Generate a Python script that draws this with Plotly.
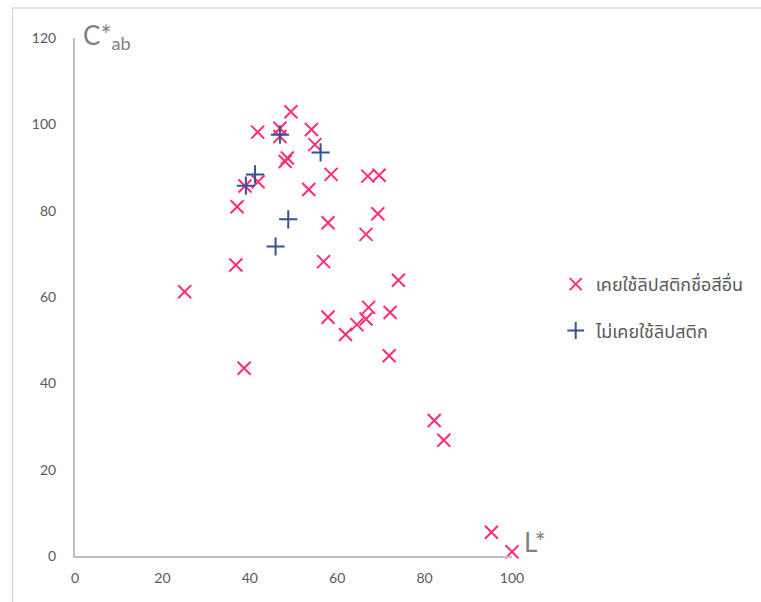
import plotly.graph_objects as go

# L* / C*ab measurements for each group
used_other_L = [25.1, 36.8, 37.1, 38.7, 38.9, 41.9, 41.8, 46.9, 46.9, 49.4, 48.1, 48.6,
                54.1, 54.9, 58.6, 67.0, 69.6, 53.5, 57.9, 69.3, 66.6, 56.9, 74.0, 57.9,
                67.2, 66.6, 64.5, 61.9, 72.1, 71.9, 82.2, 84.4, 95.3, 100.0]
used_other_C = [61.2, 67.4, 80.9, 43.5, 85.7, 86.7, 98.2, 99.1, 97.2, 102.9, 91.4, 92.2,
                98.8, 95.3, 88.4, 88.0, 88.2, 84.9, 77.2, 79.3, 74.5, 68.2, 63.9, 55.3,
                57.6, 54.9, 53.6, 51.3, 56.4, 46.4, 31.4, 26.8, 5.5, 1.0]

never_used_L = [46.9, 56.2, 41.2, 39.1, 48.8, 45.9]
never_used_C = [97.6, 93.5, 88.4, 85.8, 78.0, 71.7]

series_names = ["เคยใช้ลิปสติกชื่อสีอื่น", "ไม่เคยใช้ลิปสติก"]
x_ticks = [0, 20, 40, 60, 80, 100]
y_ticks = [0, 20, 40, 60, 80, 100, 120]

PINK = "#FF2D78"
BLUE = "#2F5597"
GRAY_TEXT = "#595959"
AXIS_GRAY = "#BFBFBF"
FONT = "Lato, 'Noto Sans', 'Noto Sans Thai', sans-serif"

fig = go.Figure()
fig.add_trace(go.Scatter(
    x=used_other_L, y=used_other_C, mode="markers", name=series_names[0],
    legendgroup="a", cliponaxis=False,
    marker=dict(symbol="x-thin", size=13, line=dict(color=PINK, width=2), color=PINK),
))
fig.add_trace(go.Scatter(
    x=never_used_L, y=never_used_C, mode="markers", name=series_names[1],
    legendgroup="b", cliponaxis=False,
    marker=dict(symbol="cross-thin", size=13, line=dict(color=BLUE, width=2), color=BLUE),
))

fig.update_layout(
    width=761, height=602,
    margin=dict(l=75, r=246, t=38, b=46),
    paper_bgcolor="white", plot_bgcolor="white",
    font=dict(family=FONT, color=GRAY_TEXT, size=14),
    legend=dict(x=1.1, y=0.56, xanchor="left", yanchor="top",
                font=dict(size=18, color=GRAY_TEXT), tracegroupgap=20,
                traceorder="grouped",
                itemsizing="constant", bgcolor="rgba(0,0,0,0)"),
    shapes=[dict(type="rect", xref="paper", yref="paper",
                 x0=(12 - 75) / 440, x1=(780 - 75) / 440,
                 y0=-0.2, y1=(556 - 8) / 518,
                 line=dict(color="#D9D9D9", width=1.5), layer="below")],
    annotations=[
        dict(text="C*<sub>ab</sub>", x=0, y=120, xref="x", yref="y",
             xanchor="left", yanchor="middle", xshift=6, yshift=2,
             showarrow=False, font=dict(size=26, color="#7F7F7F", family=FONT)),
        dict(text="L*", x=100, y=0, xref="x", yref="y",
             xanchor="left", yanchor="bottom", xshift=10, yshift=-4,
             showarrow=False, font=dict(size=26, color="#7F7F7F", family=FONT)),
    ],
)

fig.update_xaxes(range=[0, 100], tickvals=x_ticks, showgrid=False, zeroline=False,
                 showline=True, linecolor=AXIS_GRAY, linewidth=2,
                 ticks="outside", ticklen=8, tickcolor="rgba(0,0,0,0)",
                 tickfont=dict(size=14, color=GRAY_TEXT))
fig.update_yaxes(range=[0, 120], tickvals=y_ticks, showgrid=False, zeroline=False,
                 showline=True, linecolor=AXIS_GRAY, linewidth=2,
                 ticks="outside", ticklen=14, tickcolor="rgba(0,0,0,0)",
                 tickfont=dict(size=14, color=GRAY_TEXT))

fig.write_html("out.html")
